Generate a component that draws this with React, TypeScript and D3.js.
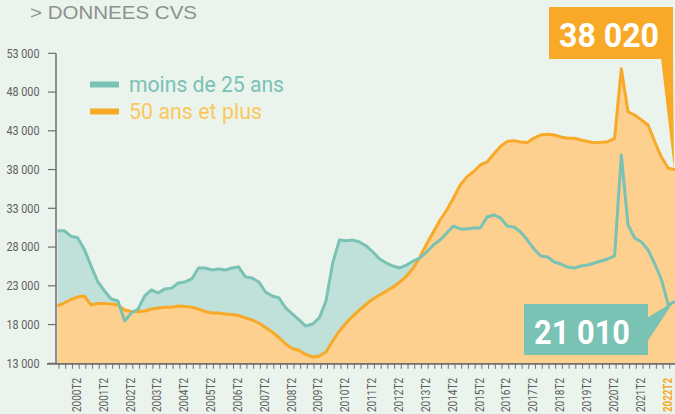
import React from "react";
import * as d3 from "d3";

const W = 675;
const H = 414;

// Quarters 1999T2 .. 2022T2
const quarters: string[] = [];
for (let yr = 1999; yr <= 2022; yr++) {
  for (let q = 1; q <= 4; q++) {
    if ((yr === 1999 && q < 2) || (yr === 2022 && q > 2)) continue;
    quarters.push(`${yr}T${q}`);
  }
}

const moins25: number[] = [
  30100, 30100, 29400, 29200, 27700, 25550, 23550, 22330, 21300, 21040,
  18460, 19490, 20000, 21700, 22470, 22070, 22600, 22700, 23360, 23500,
  23880, 25300, 25300, 25040, 25170, 25040, 25300, 25420, 24150, 24000,
  23500, 22200, 21680, 21430, 20140, 19360, 18590, 17810, 18070, 18850,
  21040, 25950, 28900, 28800, 28900, 28650, 28140, 27360, 26460, 25940,
  25550, 25300, 25680, 26200, 26590, 27360, 28260, 28900, 29810, 30710,
  30330, 30330, 30460, 30460, 31880, 32140, 31750, 30710, 30590, 29940,
  28900, 27750, 26850, 26710, 26070, 25810, 25420, 25300, 25550, 25680,
  25940, 26200, 26460, 26850, 39880, 30850, 29170, 28650, 27620, 25810,
  23750, 20520, 21010,
];

const plus50: number[] = [
  20400, 20780, 21230, 21550, 21680, 20520, 20720, 20720, 20650, 20520,
  19880, 19680, 19680, 19750, 20000, 20140, 20230, 20230, 20390, 20330,
  20230, 20000, 19680, 19490, 19490, 19360, 19300, 19170, 18850, 18590,
  18200, 17620, 17040, 16330, 15490, 14910, 14650, 14140, 13810, 13940,
  14460, 15880, 17170, 18200, 19100, 19880, 20650, 21300, 21810, 22330,
  22840, 23490, 24260, 25300, 26710, 28390, 29940, 31490, 32780, 34330,
  36010, 37050, 37750, 38590, 38980, 40010, 40980, 41630, 41730, 41560,
  41490, 42070, 42460, 42550, 42460, 42200, 42030, 42030, 41810, 41630,
  41460, 41510, 41600, 42010, 51000, 45460, 45030, 44390, 43750, 41550,
  39580, 38160, 38020,
];

const yTicks: number[] = [13000, 18000, 23000, 28000, 33000, 38000, 43000, 48000, 53000];
const xLabels: string[] = [
  "2000T2", "2001T2", "2002T2", "2003T2", "2004T2", "2005T2", "2006T2", "2007T2",
  "2008T2", "2009T2", "2010T2", "2011T2", "2012T2", "2013T2", "2014T2", "2015T2",
  "2016T2", "2017T2", "2018T2", "2019T2", "2020T2", "2021T2", "2022T2",
];
const seriesNames: string[] = ["moins de 25 ans", "50 ans et plus"];
const lastMoins25Label = "21 010";
const lastPlus50Label = "38 020";

const C = {
  bg: "#eaf4ec",
  teal: "#79c2b4",
  tealFill: "#c0e0da",
  orange: "#f8a927",
  orangeFill: "#fdd08f",
  orangeText: "#fcc75c",
  axis: "#6f6f6f",
  label: "#5e5e5e",
  title: "#8f8f8f",
};

export default function App() {
  const n = quarters.length;
  const x = d3.scaleLinear().domain([0, n - 1]).range([57.5, 675]);
  const y = d3.scaleLinear().domain([13000, 53000]).range([363.3, 53.3]);

  const line = d3
    .line<number>()
    .x((_, i) => x(i))
    .y((d) => y(d));
  const area = d3
    .area<number>()
    .x((_, i) => x(i))
    .y0(y(13000))
    .y1((d) => y(d));

  const lastI = n - 1;
  const tealEnd = { x: x(lastI), y: y(moins25[lastI]) };
  const orEnd = { x: x(lastI), y: y(plus50[lastI]) };
  const font = "Roboto, 'Liberation Sans', sans-serif";

  return (
    <svg
      width={W}
      height={H}
      style={{ position: "absolute", left: 0, top: 0, background: C.bg }}
      fontFamily={font}
    >
      <rect x={0} y={0} width={W} height={H} fill={C.bg} />
      <text
        x={30}
        y={18.5}
        fontSize={19}
        fill={C.title}
        fontFamily="'Liberation Sans', Arial, sans-serif"
        textLength={167}
        lengthAdjust="spacingAndGlyphs"
      >
        {"> DONNEES CVS"}
      </text>

      {/* areas */}
      <path d={area(moins25) || ""} fill={C.tealFill} />
      <path d={area(plus50) || ""} fill={C.orangeFill} />
      <path d={line(plus50) || ""} fill="none" stroke={C.orange} strokeWidth={3} strokeLinejoin="round" />
      <path d={line(moins25) || ""} fill="none" stroke={C.teal} strokeWidth={3} strokeLinejoin="round" />

      {/* y axis */}
      <line x1={56} x2={56} y1={y(53000)} y2={y(13000) + 1} stroke={C.axis} strokeWidth={1.5} />
      {yTicks.map((t) => (
        <g key={t}>
          <line x1={48} x2={56} y1={y(t)} y2={y(t)} stroke={C.axis} strokeWidth={1.2} />
          <text
            x={39.5}
            y={y(t)}
            dy="0.35em"
            textAnchor="end"
            fontSize={12}
            fill={C.label}
            textLength={33}
            lengthAdjust="spacingAndGlyphs"
          >
            {d3.format(",")(t).replace(",", " ")}
          </text>
        </g>
      ))}

      {/* x axis */}
      <line x1={47} x2={W} y1={y(13000) + 0.5} y2={y(13000) + 0.5} stroke={C.axis} strokeWidth={1.8} />
      {quarters.map((q, i) => (
        <line key={q} x1={x(i) + 1.5} x2={x(i) + 1.5} y1={y(13000)} y2={y(13000) + 5.5} stroke={C.axis} strokeWidth={1} />
      ))}
      {xLabels.map((lab) => {
        const i = quarters.indexOf(lab);
        const last = lab === xLabels[xLabels.length - 1];
        return (
          <text
            key={lab}
            transform={`translate(${x(i) - 3.5},378) rotate(-90)`}
            textAnchor="end"
            fontSize={13.5}
            fontWeight={last ? 700 : 400}
            fill={last ? C.orange : C.label}
            textLength={34}
            lengthAdjust="spacingAndGlyphs"
          >
            {lab}
          </text>
        );
      })}

      {/* legend */}
      <line x1={90} x2={119} y1={84.5} y2={84.5} stroke={C.teal} strokeWidth={6} />
      <text x={129} y={91.5} fontSize={22} fill={C.teal} textLength={155} lengthAdjust="spacingAndGlyphs">
        {seriesNames[0]}
      </text>
      <line x1={90} x2={119} y1={111.5} y2={111.5} stroke={C.orange} strokeWidth={6} />
      <text x={129} y={118.5} fontSize={22} fill={C.orangeText} textLength={133} lengthAdjust="spacingAndGlyphs">
        {seriesNames[1]}
      </text>

      {/* annotation 50+ */}
      <polygon points={`661,58 673,58 ${orEnd.x - 1},${orEnd.y}`} fill={C.orange} />
      <rect x={549} y={7} width={124} height={52} fill={C.orange} />
      <text x={609} y={47} textAnchor="middle" fontSize={34} fontWeight={700} fill="#fff" textLength={100} lengthAdjust="spacingAndGlyphs">
        {lastPlus50Label}
      </text>

      {/* annotation <25 */}
      <polygon points={`647,318 ${tealEnd.x - 1},${tealEnd.y} 647,342`} fill={C.teal} />
      <rect x={524} y={304} width={124} height={51} fill={C.teal} />
      <text x={582} y={343.5} textAnchor="middle" fontSize={34} fontWeight={700} fill="#fff" textLength={96} lengthAdjust="spacingAndGlyphs">
        {lastMoins25Label}
      </text>
    </svg>
  );
}
